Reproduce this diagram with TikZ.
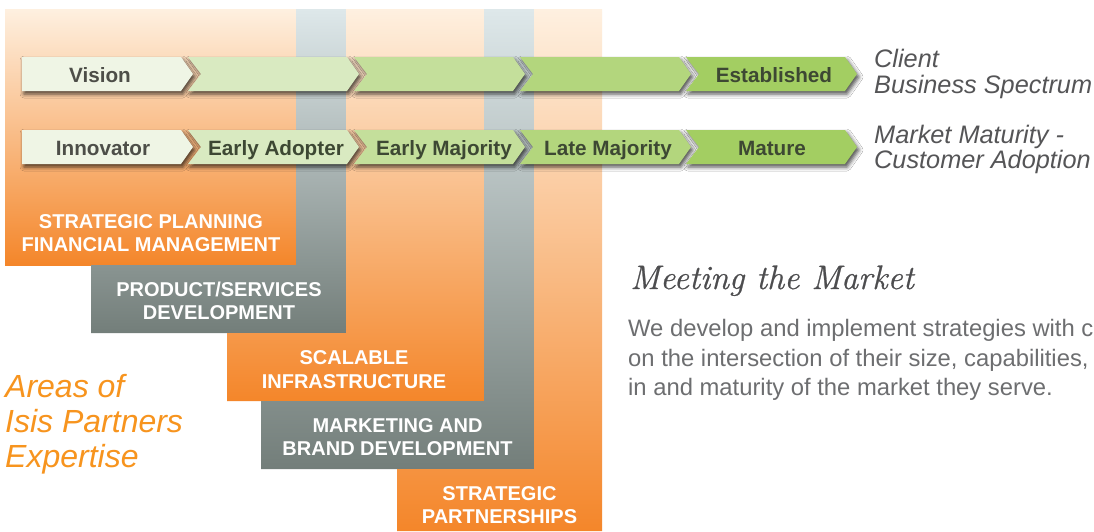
\documentclass[tikz,border=0pt]{standalone}
\usepackage{fontspec}
\newfontfamily\hel{Liberation Sans}
\newfontfamily\headfont[FakeBold=0.7]{Latin Modern Roman}
\usetikzlibrary{shadows.blur}
\definecolor{ocTop}{HTML}{FEF0E0}
\definecolor{ocBot}{HTML}{F4862A}
\definecolor{gcTop}{HTML}{DEE8EA}
\definecolor{gcBot}{HTML}{737E7A}
\definecolor{cA}{HTML}{EFF5E5}
\definecolor{cB}{HTML}{D9EAC1}
\definecolor{cC}{HTML}{C4DF9B}
\definecolor{cD}{HTML}{B3D67D}
\definecolor{cE}{HTML}{A3CE62}
\definecolor{txtGrey}{HTML}{4D4E48}
\definecolor{txtGreen}{HTML}{3D4833}
\definecolor{sideGrey}{HTML}{555557}
\definecolor{areaOrange}{HTML}{F7941E}
\definecolor{bodyGrey}{HTML}{6D6E70}
\definecolor{headGrey}{HTML}{4D4D4F}
\tikzset{
  orangeL/.style={top color=ocTop,bottom color=ocBot},
  greyL/.style={top color=gcTop,bottom color=gcBot},
  chevshadow/.style={blur shadow={shadow xshift=2pt,shadow yshift=-3pt,shadow blur radius=4pt,shadow opacity=70}},
  chevlabel/.style={font=\hel\bfseries\fontsize{20.7}{24}\selectfont,anchor=base,inner sep=0pt},
  boxlabel/.style={font=\hel\bfseries\fontsize{20}{23.5}\selectfont,text=white,align=center,inner sep=0pt},
  sidelabel/.style={font=\hel\itshape\fontsize{25.3}{27}\selectfont,text=sideGrey,anchor=base west,inner sep=0pt},
  arealabel/.style={font=\hel\itshape\fontsize{32}{35}\selectfont,text=areaOrange,anchor=base west,inner sep=0pt},
  bodytext/.style={font=\hel\fontsize{23.8}{30}\selectfont,text=bodyGrey,anchor=base west,inner sep=0pt},
  headtext/.style={font=\headfont\itshape\fontsize{34}{40}\selectfont,text=headGrey,anchor=base west,inner sep=0pt}
}
\begin{document}
\begin{tikzpicture}[x=1pt,y=-1pt]
\useasboundingbox (0,0) rectangle (1094,531);
\fill[white] (0,0) rectangle (1094,531);
% L-shaped area columns
\shade[orangeL] (5,9) rectangle (296,265);
\shade[greyL] (296,9) -- (346,9) -- (346,333) -- (91,333) -- (91,265) -- (296,265) -- cycle;
\shade[orangeL] (346,9) -- (484,9) -- (484,401) -- (227,401) -- (227,333) -- (346,333) -- cycle;
\shade[greyL] (484,9) -- (534,9) -- (534,469) -- (261,469) -- (261,401) -- (484,401) -- cycle;
\shade[orangeL] (534,9) -- (602,9) -- (602,531) -- (397,531) -- (397,469) -- (534,469) -- cycle;
% chevron shadows
\foreach \r in {57,130} {
  \foreach \i in {0,...,4} {
    \pgfmathsetmacro\L{22+166*\i}
    \pgfmathsetmacro\N{\i==0 ? \L : \L+13}
    \path[chevshadow] (\L,\r) -- ++(159,0) -- ++(12,17) -- ++(-12,17) -- (\L,\r+34) -- (\N,\r+17) -- cycle;
  }
}
% chevrons
\foreach \r in {57,130} {
  \foreach \i/\c in {0/cA,1/cB,2/cC,3/cD,4/cE} {
    \pgfmathsetmacro\L{22+166*\i}
    \pgfmathsetmacro\N{\i==0 ? \L : \L+13}
    \fill[\c] (\L,\r) -- ++(159,0) -- ++(12,17) -- ++(-12,17) -- (\L,\r+34) -- (\N,\r+17) -- cycle;
  }
}
% chevron labels
\node[chevlabel,text=txtGrey] (vision) at (100,82) {Vision};
\node[chevlabel,text=txtGreen] (established) at (774,82) {Established};
\node[chevlabel,text=txtGrey] (innovator) at (103,155) {Innovator};
\node[chevlabel,text=txtGreen] (early) at (276,155) {Early Adopter};
\node[chevlabel,text=txtGreen] (earlymaj) at (444,155) {Early Majority};
\node[chevlabel,text=txtGreen] (latemaj) at (608,155) {Late Majority};
\node[chevlabel,text=txtGreen] (mature) at (772,155) {Mature};
% side labels
\node[sidelabel] (client) at (874,67) {Client};
\node[sidelabel] (bizspec) at (874,93) {Business Spectrum};
\node[sidelabel] (market) at (874,143) {Market Maturity -};
\node[sidelabel] (custadopt) at (874,168) {Customer Adoption};
% box labels
\node[boxlabel] (strat) at (151,233) {STRATEGIC PLANNING\\FINANCIAL MANAGEMENT};
\node[boxlabel] (prod) at (219,301) {PRODUCT/SERVICES\\DEVELOPMENT};
\node[boxlabel] (scal) at (354,369.5) {SCALABLE\\INFRASTRUCTURE};
\node[boxlabel] (mkt) at (397.5,437) {MARKETING AND\\BRAND DEVELOPMENT};
\node[boxlabel] (part) at (499.5,505) {STRATEGIC\\PARTNERSHIPS};
% areas label
\node[arealabel] (areas1) at (5,397) {Areas of};
\node[arealabel] (areas2) at (5,432) {Isis Partners};
\node[arealabel] (areas3) at (5,467) {Expertise};
% heading and body
\node[headtext] (head) at (630,289) {Meeting the Market};
\node[bodytext] (body1) at (628,336) {We develop and implement strategies with c};
\node[bodytext] (body2) at (628,366) {on the intersection of their size, capabilities,};
\node[bodytext] (body3) at (628,395) {in and maturity of the market they serve.};
\end{tikzpicture}
\end{document}
